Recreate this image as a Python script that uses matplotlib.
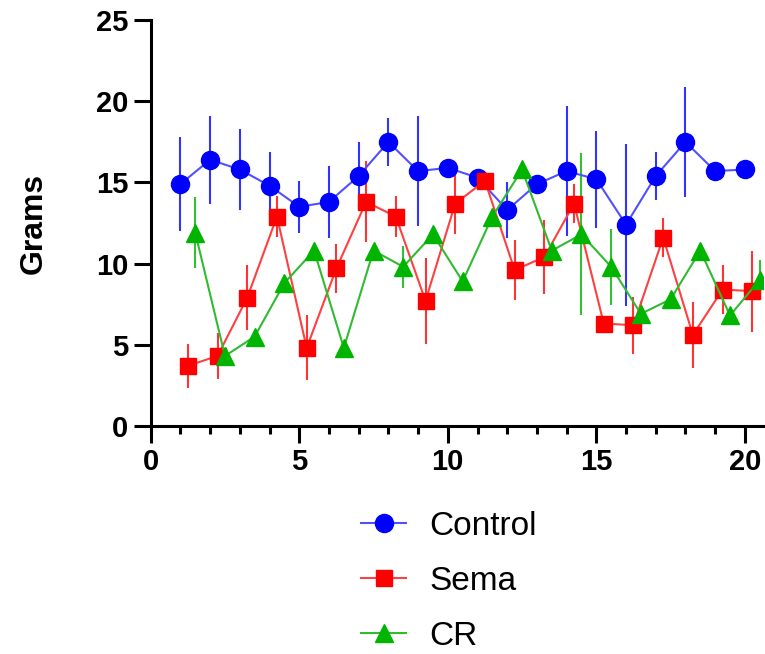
import matplotlib.pyplot as plt

plt.rcParams['font.family'] = ['Liberation Sans', 'DejaVu Sans']

days = list(range(1, 21))

control = [14.9, 16.4, 15.8, 14.8, 13.5, 13.8, 15.4, 17.5, 15.7, 15.9, 15.3, 13.3, 14.9, 15.7, 15.2, 12.4, 15.4, 17.5, 15.7, 15.8]
control_sd = [2.9, 2.7, 2.5, 2.1, 1.6, 2.2, 2.1, 1.5, 3.4, 0.3, 0.3, 1.7, 0.3, 4.0, 3.0, 5.0, 1.5, 3.4, 0.3, 0.3]

sema = [3.7, 4.3, 7.9, 12.9, 4.8, 9.7, 13.8, 12.9, 7.7, 13.7, 15.1, 9.6, 10.4, 13.7, 6.3, 6.2, 11.6, 5.6, 8.4, 8.3]
sema_sd = [1.35, 1.4, 2.0, 1.25, 2.0, 1.5, 2.5, 1.25, 2.65, 1.9, 0.3, 1.85, 2.3, 1.2, 0.3, 1.75, 1.2, 2.05, 1.5, 2.5]

cr = [11.9, 4.3, 5.5, 8.8, 10.8, 4.8, 10.8, 9.8, 11.8, 8.9, 12.9, 15.8, 10.8, 11.8, 9.8, 6.9, 7.8, 10.8, 6.8, 9.0]
cr_sd = [2.2, 0.3, 0.3, 0.3, 0.3, 0.3, 0.3, 1.3, 0.3, 0.3, 0.3, 0.3, 0.3, 5.0, 2.35, 0.8, 0.3, 0.3, 0.3, 1.2]

x_control = [d for d in days]
x_sema = [d + 0.25 for d in days]
x_cr = [d + 0.5 for d in days]

fig = plt.figure(figsize=(7.65, 6.54), dpi=100)
ax = fig.add_axes([0.197, 0.349, 0.8, 0.62])

ax.errorbar(x_control, control, yerr=control_sd, fmt='none', ecolor='#3333ff', elinewidth=1.5, capsize=0)
ax.errorbar(x_sema, sema, yerr=sema_sd, fmt='none', ecolor='#ff3333', elinewidth=1.5, capsize=0)
ax.errorbar(x_cr, cr, yerr=cr_sd, fmt='none', ecolor='#33c033', elinewidth=1.5, capsize=0)

ax.plot(x_control, control, color='#5050ff', lw=1.5, marker='o', ms=13,
        mfc='#0000ff', mec='#0000ff', label='Control')
ax.plot(x_sema, sema, color='#ff4040', lw=1.5, marker='s', ms=11.5,
        mfc='#ff0000', mec='#ff0000', label='Sema')
ax.plot(x_cr, cr, color='#30bb30', lw=1.5, marker='^', ms=12.5,
        mfc='#00b400', mec='#00b400', label='CR')

ax.set_xlim(0, 20.6)
ax.set_ylim(0, 25)
ax.set_xticks([0, 5, 10, 15, 20])
ax.set_xticks(range(0, 21), minor=True)
ax.set_yticks([0, 5, 10, 15, 20, 25])

for s in ['top', 'right']:
    ax.spines[s].set_visible(False)
for s in ['left', 'bottom']:
    ax.spines[s].set_linewidth(2.2)

ax.tick_params(axis='both', which='major', length=12, width=2.2, labelsize=21, pad=4)
ax.tick_params(axis='x', which='minor', length=6, width=2.2)
for lab in ax.get_xticklabels() + ax.get_yticklabels():
    lab.set_fontweight('bold')

ax.set_ylabel('Grams', fontsize=23, fontweight='bold', labelpad=34)

fig.legend(loc='upper left', bbox_to_anchor=(0.455, 0.239), frameon=False,
           fontsize=24, handlelength=1.35, handletextpad=0.7, labelspacing=0.72,
           borderaxespad=0)

fig.savefig('out.png', dpi=100)
